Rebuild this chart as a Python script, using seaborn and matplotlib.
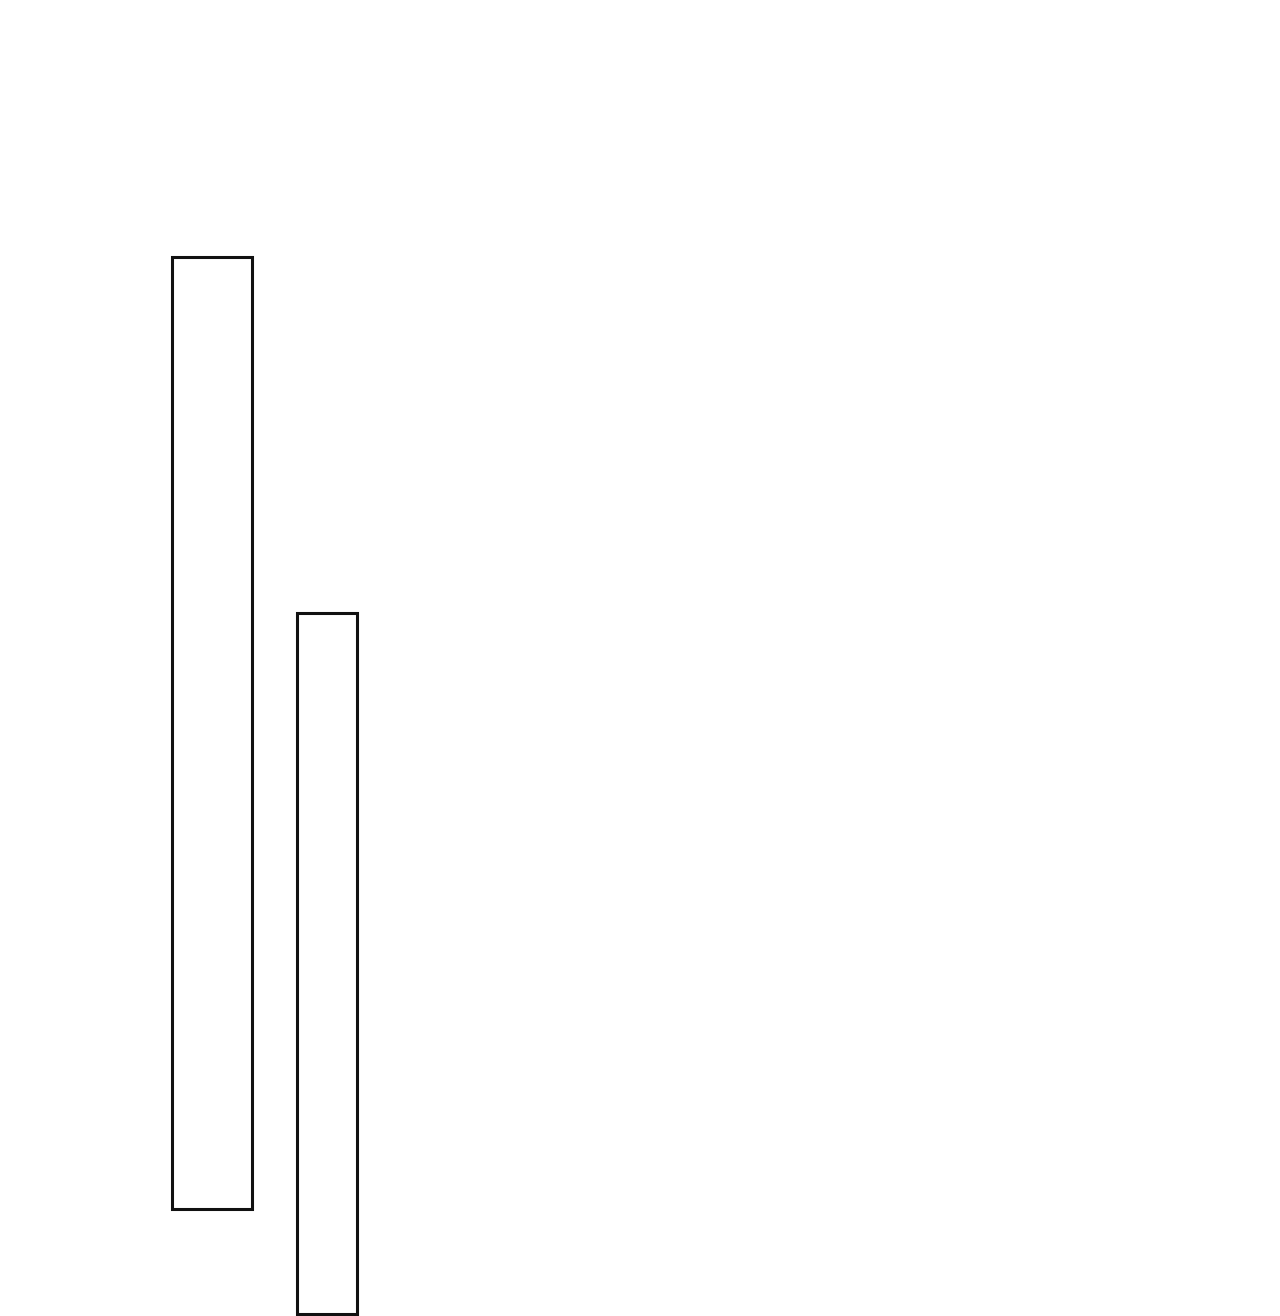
import matplotlib
matplotlib.use("Agg")
import matplotlib.pyplot as plt
import seaborn as sns
import numpy as np

# Data (floating bars: low / high values)
categories = ["A", "B"]
low_values = [8.0, 0.0]
high_values = [80.35, 53.25]
bar_widths = [0.70, 0.52]

sns.set_theme(style="white")

fig = plt.figure(figsize=(12.8, 13.16), dpi=100)
ax = fig.add_axes([0, 0, 1, 1])

x = np.arange(len(categories))
heights = np.array(high_values) - np.array(low_values)
ax.bar(x, heights, bottom=low_values, width=bar_widths,
       facecolor="white", edgecolor="#111111", linewidth=2.2)

ax.set_xlim(-1.843, 9.287)
ax.set_ylim(-0.15, 99.85)
ax.axis("off")

fig.savefig("out.png", dpi=100, facecolor="white")
